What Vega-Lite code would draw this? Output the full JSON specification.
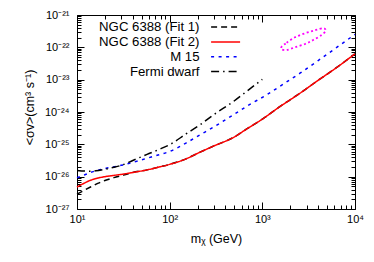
{
  "$schema": "https://vega.github.io/schema/vega-lite/v6.json",
  "width": 278,
  "height": 194,
  "autosize": "none",
  "padding": {"left": 77, "top": 15, "right": 19, "bottom": 53},
  "background": "white",
  "config": {
    "view": {"stroke": null},
    "font": "Liberation Sans",
    "axis": {"grid": false, "domainColor": "black", "domainWidth": 1, "tickColor": "black", "tickWidth": 1, "labelColor": "black", "labelFont": "Liberation Sans", "labelFontSize": 11, "titleFont": "Liberation Sans", "titleColor": "black", "titleFontWeight": "normal", "titleFontSize": 12.5}
  },
  "datasets": {
    "curves": [
      {"s": "NGC 6388 (Fit 1)", "m": 10, "sv": 2.884e-27},
      {"s": "NGC 6388 (Fit 1)", "m": 12, "sv": 3.802e-27},
      {"s": "NGC 6388 (Fit 1)", "m": 14, "sv": 4.786e-27},
      {"s": "NGC 6388 (Fit 1)", "m": 17, "sv": 6.31e-27},
      {"s": "NGC 6388 (Fit 1)", "m": 20, "sv": 7.586e-27},
      {"s": "NGC 6388 (Fit 1)", "m": 25, "sv": 9.333e-27},
      {"s": "NGC 6388 (Fit 1)", "m": 30, "sv": 1.072e-26},
      {"s": "NGC 6388 (Fit 1)", "m": 35, "sv": 1.202e-26},
      {"s": "NGC 6388 (Fit 1)", "m": 40, "sv": 1.349e-26},
      {"s": "NGC 6388 (Fit 1)", "m": 57, "sv": 1.622e-26},
      {"s": "NGC 6388 (Fit 1)", "m": 75, "sv": 1.95e-26},
      {"s": "NGC 6388 (Fit 1)", "m": 100, "sv": 2.399e-26},
      {"s": "NGC 6388 (Fit 1)", "m": 150, "sv": 3.548e-26},
      {"s": "NGC 6388 (Fit 1)", "m": 210, "sv": 5.623e-26},
      {"s": "NGC 6388 (Fit 1)", "m": 300, "sv": 8.913e-26},
      {"s": "NGC 6388 (Fit 1)", "m": 485, "sv": 1.622e-25},
      {"s": "NGC 6388 (Fit 1)", "m": 700, "sv": 3.162e-25},
      {"s": "NGC 6388 (Fit 1)", "m": 1000, "sv": 6.026e-25},
      {"s": "NGC 6388 (Fit 1)", "m": 1500, "sv": 1.38e-24},
      {"s": "NGC 6388 (Fit 1)", "m": 2547, "sv": 3.802e-24},
      {"s": "NGC 6388 (Fit 1)", "m": 4000, "sv": 9.55e-24},
      {"s": "NGC 6388 (Fit 1)", "m": 6300, "sv": 2.344e-23},
      {"s": "NGC 6388 (Fit 1)", "m": 10000, "sv": 6.31e-23},
      {"s": "NGC 6388 (Fit 2)", "m": 10, "sv": 4.786e-27},
      {"s": "NGC 6388 (Fit 2)", "m": 12, "sv": 6.31e-27},
      {"s": "NGC 6388 (Fit 2)", "m": 14, "sv": 7.76e-27},
      {"s": "NGC 6388 (Fit 2)", "m": 17, "sv": 9.12e-27},
      {"s": "NGC 6388 (Fit 2)", "m": 20, "sv": 1.0e-26},
      {"s": "NGC 6388 (Fit 2)", "m": 25, "sv": 1.096e-26},
      {"s": "NGC 6388 (Fit 2)", "m": 30, "sv": 1.175e-26},
      {"s": "NGC 6388 (Fit 2)", "m": 40, "sv": 1.349e-26},
      {"s": "NGC 6388 (Fit 2)", "m": 57, "sv": 1.622e-26},
      {"s": "NGC 6388 (Fit 2)", "m": 75, "sv": 1.95e-26},
      {"s": "NGC 6388 (Fit 2)", "m": 100, "sv": 2.399e-26},
      {"s": "NGC 6388 (Fit 2)", "m": 150, "sv": 3.548e-26},
      {"s": "NGC 6388 (Fit 2)", "m": 210, "sv": 5.623e-26},
      {"s": "NGC 6388 (Fit 2)", "m": 300, "sv": 8.913e-26},
      {"s": "NGC 6388 (Fit 2)", "m": 485, "sv": 1.622e-25},
      {"s": "NGC 6388 (Fit 2)", "m": 700, "sv": 3.162e-25},
      {"s": "NGC 6388 (Fit 2)", "m": 1000, "sv": 6.026e-25},
      {"s": "NGC 6388 (Fit 2)", "m": 1500, "sv": 1.38e-24},
      {"s": "NGC 6388 (Fit 2)", "m": 2547, "sv": 3.802e-24},
      {"s": "NGC 6388 (Fit 2)", "m": 4000, "sv": 9.55e-24},
      {"s": "NGC 6388 (Fit 2)", "m": 6300, "sv": 2.344e-23},
      {"s": "NGC 6388 (Fit 2)", "m": 10000, "sv": 6.31e-23},
      {"s": "M 15", "m": 10, "sv": 9.333e-27},
      {"s": "M 15", "m": 12, "sv": 1.122e-26},
      {"s": "M 15", "m": 14, "sv": 1.349e-26},
      {"s": "M 15", "m": 17, "sv": 1.585e-26},
      {"s": "M 15", "m": 20, "sv": 1.778e-26},
      {"s": "M 15", "m": 30, "sv": 2.239e-26},
      {"s": "M 15", "m": 40, "sv": 2.754e-26},
      {"s": "M 15", "m": 57, "sv": 3.715e-26},
      {"s": "M 15", "m": 75, "sv": 4.677e-26},
      {"s": "M 15", "m": 100, "sv": 6.026e-26},
      {"s": "M 15", "m": 150, "sv": 1.096e-25},
      {"s": "M 15", "m": 212, "sv": 1.95e-25},
      {"s": "M 15", "m": 300, "sv": 3.467e-25},
      {"s": "M 15", "m": 485, "sv": 8.128e-25},
      {"s": "M 15", "m": 700, "sv": 1.585e-24},
      {"s": "M 15", "m": 1112, "sv": 3.388e-24},
      {"s": "M 15", "m": 1700, "sv": 7.413e-24},
      {"s": "M 15", "m": 2547, "sv": 1.585e-23},
      {"s": "M 15", "m": 4000, "sv": 3.89e-23},
      {"s": "M 15", "m": 6300, "sv": 9.772e-23},
      {"s": "M 15", "m": 10000, "sv": 2.512e-22},
      {"s": "Fermi dwarf", "m": 10, "sv": 1.549e-26},
      {"s": "Fermi dwarf", "m": 13, "sv": 1.479e-26},
      {"s": "Fermi dwarf", "m": 16, "sv": 1.514e-26},
      {"s": "Fermi dwarf", "m": 20, "sv": 1.698e-26},
      {"s": "Fermi dwarf", "m": 25, "sv": 1.95e-26},
      {"s": "Fermi dwarf", "m": 30, "sv": 2.239e-26},
      {"s": "Fermi dwarf", "m": 40, "sv": 3.162e-26},
      {"s": "Fermi dwarf", "m": 57, "sv": 4.898e-26},
      {"s": "Fermi dwarf", "m": 75, "sv": 6.761e-26},
      {"s": "Fermi dwarf", "m": 100, "sv": 9.772e-26},
      {"s": "Fermi dwarf", "m": 150, "sv": 2.089e-25},
      {"s": "Fermi dwarf", "m": 212, "sv": 3.981e-25},
      {"s": "Fermi dwarf", "m": 300, "sv": 8.318e-25},
      {"s": "Fermi dwarf", "m": 485, "sv": 2.089e-24},
      {"s": "Fermi dwarf", "m": 700, "sv": 4.677e-24},
      {"s": "Fermi dwarf", "m": 1000, "sv": 1.023e-23}
    ],
    "ellipse": [
      {"o": 1, "m": 1615, "sv": 1.047e-22},
      {"o": 2, "m": 1828, "sv": 1.39e-22},
      {"o": 3, "m": 2248, "sv": 2.042e-22},
      {"o": 4, "m": 2884, "sv": 2.716e-22},
      {"o": 5, "m": 3690, "sv": 3.365e-22},
      {"o": 6, "m": 4540, "sv": 3.89e-22},
      {"o": 7, "m": 4820, "sv": 3.266e-22},
      {"o": 8, "m": 4365, "sv": 2.404e-22},
      {"o": 9, "m": 3540, "sv": 1.687e-22},
      {"o": 10, "m": 2884, "sv": 1.268e-22},
      {"o": 11, "m": 2248, "sv": 1.002e-22},
      {"o": 12, "m": 1828, "sv": 8.26e-23},
      {"o": 13, "m": 1615, "sv": 8.69e-23}
    ]
  },
  "layer": [
    {
      "data": {"name": "curves"},
      "mark": {"type": "line", "strokeWidth": 1.5, "interpolate": "monotone"},
      "encoding": {
        "x": {"field": "m", "type": "quantitative",
          "scale": {"type": "log", "domain": [10, 10000], "nice": false},
          "axis": {"orient": "bottom", "title": "mᵪ (GeV)", "titleX": 139, "titleY": 33, "titleBaseline": "alphabetic", "titleAlign": "center",
            "values": [10,20,30,40,50,60,70,80,90,100,200,300,400,500,600,700,800,900,1000,2000,3000,4000,5000,6000,7000,8000,9000,10000],
            "labelExpr": "abs(log(datum.value)/LN10 - round(log(datum.value)/LN10)) < 1e-6 ? ['10¹','10²','10³','10⁴'][round(log(datum.value)/LN10)-1] : ''",
            "tickSize": {"condition": {"test": "abs(log(datum.value)/LN10 - round(log(datum.value)/LN10)) < 1e-6", "value": -7}, "value": -4},
            "labelPadding": 11, "labelFlush": false, "labelOverlap": false}},
        "y": {"field": "sv", "type": "quantitative",
          "scale": {"type": "log", "domain": [1e-27, 1e-21], "nice": false},
          "axis": {"orient": "left", "title": "<σv>(cm³ s⁻¹)", "titleX": -44, "titleY": 92, "titleAngle": 270, "titleBaseline": "alphabetic", "titleAlign": "center",
            "values": [1e-27,2e-27,3e-27,4e-27,5e-27,6e-27,7e-27,8e-27,9e-27,1e-26,2e-26,3e-26,4e-26,5e-26,6e-26,7e-26,8e-26,9e-26,1e-25,2e-25,3e-25,4e-25,5e-25,6e-25,7e-25,8e-25,9e-25,1e-24,2e-24,3e-24,4e-24,5e-24,6e-24,7e-24,8e-24,9e-24,1e-23,2e-23,3e-23,4e-23,5e-23,6e-23,7e-23,8e-23,9e-23,1e-22,2e-22,3e-22,4e-22,5e-22,6e-22,7e-22,8e-22,9e-22,1e-21],
            "labelExpr": "abs(log(datum.value)/LN10 - round(log(datum.value)/LN10)) < 1e-6 ? ['10⁻²⁷','10⁻²⁶','10⁻²⁵','10⁻²⁴','10⁻²³','10⁻²²','10⁻²¹'][round(log(datum.value)/LN10)+27] : ''",
            "tickSize": {"condition": {"test": "abs(log(datum.value)/LN10 - round(log(datum.value)/LN10)) < 1e-6", "value": -7}, "value": -4},
            "labelPadding": 15, "labelFlush": false, "labelOverlap": false}},
        "color": {"field": "s", "type": "nominal",
          "scale": {"domain": ["NGC 6388 (Fit 1)", "NGC 6388 (Fit 2)", "M 15", "Fermi dwarf"], "range": ["#000000", "#ff0000", "#0000ff", "#000000"]},
          "legend": {"title": null, "orient": "none", "legendX": 142, "legendY": 5.5, "symbolType": "M-26.1,0M-2.9,0L2.9,0", "symbolSize": 100, "symbolStrokeWidth": 1.5, "labelAlign": "right", "labelOffset": -32.7, "labelFont": "Liberation Sans", "labelFontSize": 13.2, "labelColor": "black", "labelLimit": 300, "rowPadding": 0.8, "padding": 0}},
        "strokeDash": {"field": "s", "type": "nominal",
          "scale": {"domain": ["NGC 6388 (Fit 1)", "NGC 6388 (Fit 2)", "M 15", "Fermi dwarf"], "range": [[6, 4], [1, 0], [3, 4.5], [8, 4, 1.5, 4]]},
          "legend": {"title": null}}
      }
    },
    {
      "data": {"name": "ellipse"},
      "mark": {"type": "line", "interpolate": "cardinal-closed", "color": "#ff00ff", "strokeWidth": 1.8, "strokeDash": [2, 2.5]},
      "encoding": {
        "order": {"field": "o", "type": "quantitative"},
        "x": {"field": "m", "type": "quantitative",
          "scale": {"type": "log", "domain": [10, 10000], "nice": false},
          "axis": {"orient": "top", "title": null, "labels": false,
            "values": [10,20,30,40,50,60,70,80,90,100,200,300,400,500,600,700,800,900,1000,2000,3000,4000,5000,6000,7000,8000,9000,10000],
            "tickSize": {"condition": {"test": "abs(log(datum.value)/LN10 - round(log(datum.value)/LN10)) < 1e-6", "value": -7}, "value": -4}}},
        "y": {"field": "sv", "type": "quantitative",
          "scale": {"type": "log", "domain": [1e-27, 1e-21], "nice": false},
          "axis": {"orient": "right", "title": null, "labels": false,
            "values": [1e-27,2e-27,3e-27,4e-27,5e-27,6e-27,7e-27,8e-27,9e-27,1e-26,2e-26,3e-26,4e-26,5e-26,6e-26,7e-26,8e-26,9e-26,1e-25,2e-25,3e-25,4e-25,5e-25,6e-25,7e-25,8e-25,9e-25,1e-24,2e-24,3e-24,4e-24,5e-24,6e-24,7e-24,8e-24,9e-24,1e-23,2e-23,3e-23,4e-23,5e-23,6e-23,7e-23,8e-23,9e-23,1e-22,2e-22,3e-22,4e-22,5e-22,6e-22,7e-22,8e-22,9e-22,1e-21],
            "tickSize": {"condition": {"test": "abs(log(datum.value)/LN10 - round(log(datum.value)/LN10)) < 1e-6", "value": -7}, "value": -4}}}
      }
    }
  ],
  "resolve": {"axis": {"x": "independent", "y": "independent"}}
}
